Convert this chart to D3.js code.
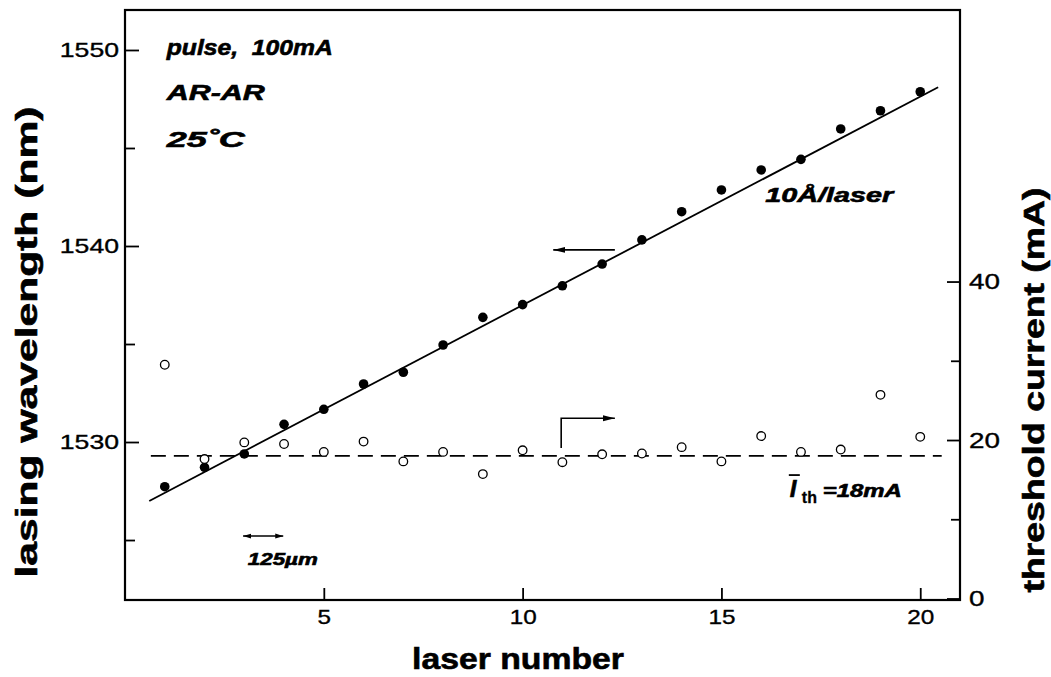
<!DOCTYPE html>
<html>
<head>
<meta charset="utf-8">
<script src="https://cdn.jsdelivr.net/npm/d3@7/dist/d3.min.js"></script>
<style>
  html, body { margin: 0; padding: 0; background: #fff; }
  svg { display: block; }
  text { font-family: "Liberation Sans", Arial, Helvetica, sans-serif; fill: #000; }
  .tick text { font-size: 21px; stroke: #000; stroke-width: 0.35px; }
  .right .tick text { font-size: 22px; }
  .tick line { stroke: #000; stroke-width: 1.8px; }
  .note { font-weight: bold; font-style: italic; white-space: pre; stroke: #000; stroke-width: 0.6px; }
  .title { font-weight: bold; font-size: 30px; stroke: #000; stroke-width: 0.6px; }
</style>
</head>
<body>
<svg id="chart" width="1051" height="677"></svg>
<script>
// Laser array: lasing wavelength (filled dots) and threshold current (open circles)
const laserNumber = [1, 2, 3, 4, 5, 6, 7, 8, 9, 10, 11, 12, 13, 14, 15, 16, 17, 18, 19, 20];
const wavelength = [1527.72, 1528.71, 1529.39, 1530.90, 1531.67, 1532.96, 1533.56, 1534.95, 1536.36, 1537.01,
                    1537.97, 1539.08, 1540.31, 1541.75, 1542.86, 1543.88, 1544.42, 1545.97, 1546.90, 1547.87];
const thresholdCurrent = [29.5, 17.6, 19.7, 19.5, 18.5, 19.8, 17.3, 18.5, 15.7, 18.7,
                          17.2, 18.2, 18.3, 19.1, 17.3, 20.5, 18.5, 18.8, 25.7, 20.4];

// Linear fit of wavelength versus laser number (about 10 Å per laser)
const fitLaser = [0.61, 20.45];
const fitWavelength = [1526.99, 1548.10];

// Mean threshold current
const meanThreshold = 18;
const meanSpan = [0.65, 20.54];

// Axis ticks
const xTicks = [5, 10, 15, 20];
const wlTicks = [1530, 1540, 1550];
const wlMinorTicks = [1525, 1535, 1545];
const ithTicks = [0, 20, 40];
const ithMinorTicks = [10, 30];

const svg = d3.select("#chart");
const plot = { left: 125, right: 960, top: 10, bottom: 600 };

const x = d3.scaleLinear().domain([0, 21]).range([plot.left, plot.right]);
const yWl = d3.scaleLinear().domain([1521.94, 1552.04]).range([plot.bottom, plot.top]);
const yIth = d3.scaleLinear().domain([-0.19, 74.27]).range([plot.bottom, plot.top]);

// Wide numerals: stretch each tick label to a fixed width per digit
function widen(g, perChar) {
  g.selectAll(".tick text")
    .attr("textLength", (d) => String(d).length * perChar)
    .attr("lengthAdjust", "spacingAndGlyphs");
}

// Axes with inward ticks
svg.append("g").attr("transform", `translate(0,${plot.bottom})`)
  .call(d3.axisBottom(x).tickValues(xTicks).tickSizeInner(-12).tickSizeOuter(0).tickPadding(9).tickFormat(d3.format("d")))
  .call(widen, 13.5);

svg.append("g").attr("transform", `translate(${plot.left},0)`)
  .call(d3.axisLeft(yWl).tickValues(wlTicks).tickSizeInner(-14).tickSizeOuter(0).tickPadding(6).tickFormat(d3.format("d")))
  .call(widen, 14.8);
svg.append("g").attr("transform", `translate(${plot.left},0)`)
  .call(d3.axisLeft(yWl).tickValues(wlMinorTicks).tickSizeInner(-10).tickSizeOuter(0).tickFormat(""));

svg.append("g").attr("class", "right").attr("transform", `translate(${plot.right},0)`)
  .call(d3.axisRight(yIth).tickValues(ithTicks).tickSizeInner(-13).tickSizeOuter(0).tickPadding(9).tickFormat(d3.format("d")))
  .call(widen, 15.5);
svg.append("g").attr("transform", `translate(${plot.right},0)`)
  .call(d3.axisRight(yIth).tickValues(ithMinorTicks).tickSizeInner(-9).tickSizeOuter(0).tickFormat(""));

svg.selectAll(".domain").remove();
svg.selectAll(".tick text").attr("fill", "#000");

// Frame
svg.append("rect")
  .attr("x", plot.left).attr("y", plot.top)
  .attr("width", plot.right - plot.left).attr("height", plot.bottom - plot.top)
  .attr("fill", "none").attr("stroke", "#000").attr("stroke-width", 2.2);

// Arrow heads
const defs = svg.append("defs");
defs.append("marker").attr("id", "head")
  .attr("markerUnits", "userSpaceOnUse")
  .attr("viewBox", "0 0 12 8").attr("refX", 12).attr("refY", 4)
  .attr("markerWidth", 12).attr("markerHeight", 8).attr("orient", "auto")
  .append("path").attr("d", "M0,1 L12,4 L0,7 Z").attr("fill", "#000");
defs.append("marker").attr("id", "small")
  .attr("markerUnits", "userSpaceOnUse")
  .attr("viewBox", "0 0 8 6").attr("refX", 8).attr("refY", 3)
  .attr("markerWidth", 8).attr("markerHeight", 6).attr("orient", "auto-start-reverse")
  .append("path").attr("d", "M0,0.5 L8,3 L0,5.5 Z").attr("fill", "#000");

// Fit line
svg.append("line")
  .attr("x1", x(fitLaser[0])).attr("y1", yWl(fitWavelength[0]))
  .attr("x2", x(fitLaser[1])).attr("y2", yWl(fitWavelength[1]))
  .attr("stroke", "#000").attr("stroke-width", 1.8);

// Mean threshold line
svg.append("line")
  .attr("x1", x(meanSpan[0])).attr("y1", yIth(meanThreshold))
  .attr("x2", x(meanSpan[1])).attr("y2", yIth(meanThreshold))
  .attr("stroke", "#000").attr("stroke-width", 1.8)
  .attr("stroke-dasharray", "15 8");

// Wavelength points
svg.append("g").selectAll("circle").data(laserNumber).join("circle")
  .attr("cx", (d) => x(d)).attr("cy", (d, i) => yWl(wavelength[i]))
  .attr("r", 4.8).attr("fill", "#000");

// Threshold current points
svg.append("g").selectAll("circle").data(laserNumber).join("circle")
  .attr("cx", (d) => x(d)).attr("cy", (d, i) => yIth(thresholdCurrent[i]))
  .attr("r", 4.3).attr("fill", "#fff").attr("stroke", "#000").attr("stroke-width", 1.3);

// Axis pointers
svg.append("line")
  .attr("x1", x(12.32)).attr("y1", yWl(1539.8))
  .attr("x2", x(10.77)).attr("y2", yWl(1539.8))
  .attr("stroke", "#000").attr("stroke-width", 1.6).attr("marker-end", "url(#head)");
svg.append("path")
  .attr("d", `M${x(10.97)},${yIth(19.0)} V${yIth(22.74)} H${x(12.32)}`)
  .attr("fill", "none").attr("stroke", "#000").attr("stroke-width", 1.6).attr("marker-end", "url(#head)");

// Laser pitch bar
svg.append("line")
  .attr("x1", x(2.97)).attr("y1", yWl(1525.2))
  .attr("x2", x(3.98)).attr("y2", yWl(1525.2))
  .attr("stroke", "#000").attr("stroke-width", 1.5)
  .attr("marker-start", "url(#small)").attr("marker-end", "url(#small)");

// Text notes (position in laser number / wavelength units)
const notes = [
  { text: "pulse,  100mA", lx: 1.05, wl: 1549.74, size: 22, len: 166 },
  { text: "AR-AR", lx: 1.05, wl: 1547.45, size: 22, len: 98 },
  { text: "25\u02DAC", lx: 1.05, wl: 1545.05, size: 22, len: 78 },
  { text: "10\u00C5/laser", lx: 16.1, wl: 1542.26, size: 20, len: 128 },
  { text: "125\u00B5m", lx: 3.09, wl: 1523.72, size: 17, len: 70 }
];
svg.append("g").selectAll("text").data(notes).join("text")
  .attr("class", "note")
  .attr("x", (d) => x(d.lx)).attr("y", (d) => yWl(d.wl))
  .attr("font-size", (d) => d.size)
  .attr("textLength", (d) => d.len).attr("lengthAdjust", "spacingAndGlyphs")
  .text((d) => d.text);

// Mean threshold label
const ithX = x(16.72), ithY = yIth(12.8);
const iGlyph = svg.append("text").attr("class", "note")
  .attr("x", ithX).attr("y", ithY).attr("font-size", 24).text("I");
const ib = iGlyph.node().getBBox();
svg.append("line")
  .attr("x1", ib.x - 1).attr("x2", ib.x + ib.width + 2)
  .attr("y1", ithY - 22).attr("y2", ithY - 22)
  .attr("stroke", "#000").attr("stroke-width", 1.8);
svg.append("text").attr("x", ithX + 12).attr("y", ithY + 6)
  .attr("font-size", 16).attr("font-weight", "bold")
  .attr("stroke", "#000").attr("stroke-width", 0.3).text("th");
svg.append("text").attr("class", "note")
  .attr("x", ithX + 33).attr("y", ithY)
  .attr("font-size", 18).attr("textLength", 79).attr("lengthAdjust", "spacingAndGlyphs")
  .text("=18mA");

// Axis titles
svg.append("text").attr("class", "title")
  .attr("text-anchor", "middle")
  .attr("transform", "translate(37,342) rotate(-90)")
  .attr("font-size", 31)
  .attr("textLength", 471).attr("lengthAdjust", "spacingAndGlyphs")
  .text("lasing wavelength (nm)");
svg.append("text").attr("class", "title")
  .attr("text-anchor", "middle")
  .attr("transform", "translate(1044,390) rotate(-90)")
  .attr("textLength", 405).attr("lengthAdjust", "spacingAndGlyphs")
  .text("threshold current (mA)");
svg.append("text").attr("class", "title")
  .attr("text-anchor", "middle")
  .attr("x", 518).attr("y", 669)
  .attr("textLength", 212).attr("lengthAdjust", "spacingAndGlyphs")
  .text("laser number");
</script>
</body>
</html>
